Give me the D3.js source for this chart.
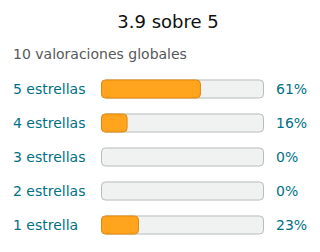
<!DOCTYPE html>
<html><head><meta charset="utf-8">
<script src="https://cdn.jsdelivr.net/npm/d3@7"></script>
<style>html,body{margin:0;padding:0;background:#fff;}svg{display:block;font-family:"DejaVu Sans",sans-serif;}</style>
</head><body>
<svg id="c" width="320" height="252"></svg>
<script>
const title = "3.9 sobre 5";
const subtitle = "10 valoraciones globales";
const categories = ["5 estrellas","4 estrellas","3 estrellas","2 estrellas","1 estrella"];
const percents = [61,16,0,0,23];

const svg = d3.select("#c");
const x = d3.scaleLinear().domain([0,100]).range([101,264]);
const y = d3.scaleBand().domain(categories).range([72,242]).paddingInner(0.44).paddingOuter(0.22);

svg.append("text").attr("x",168).attr("y",28).attr("text-anchor","middle")
  .attr("font-size",18).attr("fill","#0f1111").text(title);
svg.append("text").attr("x",13).attr("y",59).attr("font-size",14).attr("fill","#565959").text(subtitle);

const rows = svg.selectAll("g.row").data(categories).enter().append("g").attr("class","row");
rows.append("text").attr("x",13).attr("y",d=>y(d)+y.bandwidth()/2+5)
  .attr("font-size",14).attr("fill","#007185").text(d=>d);
rows.append("rect").attr("x",x(0)+0.5).attr("y",d=>y(d)+0.5)
  .attr("width",x(100)-x(0)-1).attr("height",y.bandwidth()-1).attr("rx",4)
  .attr("fill","#f0f2f2").attr("stroke","#b8bcbc").attr("stroke-width",1);
rows.filter((d,i)=>percents[i]>0).append("rect")
  .attr("x",x(0)+0.5).attr("y",d=>y(d)+0.5)
  .attr("width",d=>x(percents[categories.indexOf(d)])-x(0)-0.5).attr("height",y.bandwidth()-1).attr("rx",4)
  .attr("fill","#ffa41c").attr("stroke","#e3870e").attr("stroke-width",1);
rows.append("text").attr("x",276).attr("y",d=>y(d)+y.bandwidth()/2+5)
  .attr("font-size",14).attr("fill","#007185").text((d,i)=>percents[i]+"%");
</script>
</body></html>
